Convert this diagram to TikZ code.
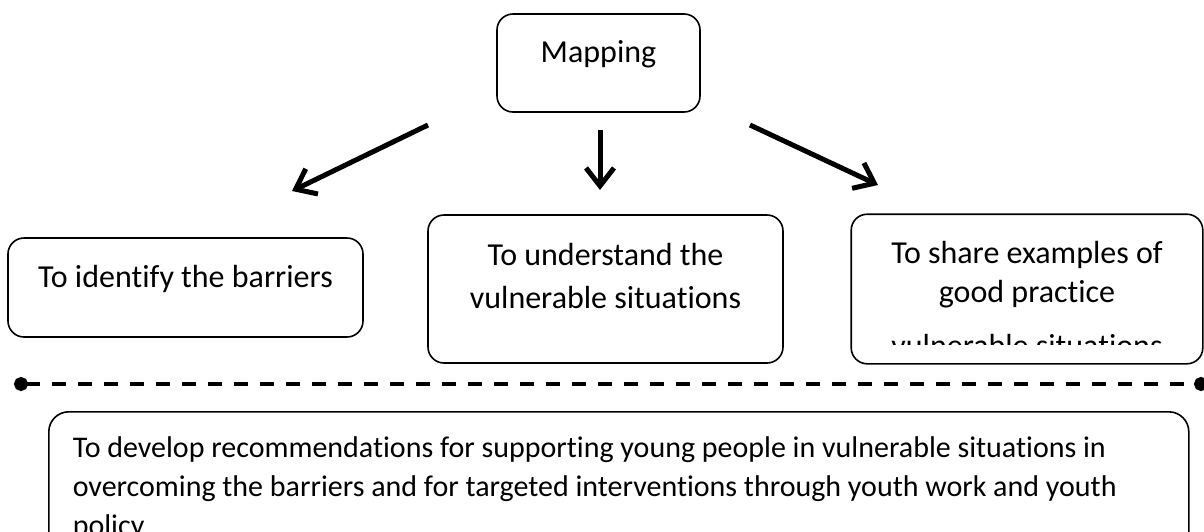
\documentclass[tikz,border=0pt]{standalone}
\usepackage{fontspec}
\setmainfont[Ligatures=NoCommon]{Carlito}
\usetikzlibrary{arrows.meta}

\begin{document}
\begin{tikzpicture}[x=1pt, y=-1pt,
    box/.style={draw, line width=1.6pt, rounded corners=16pt, inner sep=0pt,
      font=\fontsize{32}{40}\selectfont},
    arr/.style={line width=5pt, -{Straight Barb[length=18pt,width=28pt]}},
    sep/.style={line width=3.5pt, dash pattern=on 14pt off 12pt,
      {Circle[length=14pt]}-{Circle[length=14pt]}}]
      \clip (0,0) rectangle (1204,531);
      \node[box, anchor=base, minimum width=203pt, text height=48pt, text depth=50pt]
        (map) at (598.5,62) {Mapping};
      \node[box, anchor=base, minimum width=355pt, text height=49pt, text depth=50pt]
        (barr) at (185.5,287) {To identify the barriers};
      \node[box, anchor=base, minimum width=355pt, text height=50pt, text depth=98pt]
        (under) at (605.5,265) {\parbox[t]{340pt}{\centering To understand the\\[3pt]
        vulnerable situations}};
      \begin{scope}
        \clip (852,200) rectangle (1204,344);
        \node[box, draw=none, anchor=base, minimum width=350pt, text height=48pt, text depth=100pt]
          (share) at (1027,263) {\parbox[t]{340pt}{\centering To share examples of\\[-1pt]
          good practice\\[14pt] vulnerable situations}};
      \end{scope}
      \draw[line width=1.6pt, rounded corners=16pt] (share.north west) rectangle (share.south east);
      \node[box, anchor=north west, minimum width=1140pt, rounded corners=20pt,
        font=\fontsize{30}{39}\selectfont, text height=46pt, text depth=150pt]
        (recom) at (48,411) {\parbox[t]{1092pt}{\raggedright
        \mbox{To develop recommendations for supporting young people in vulnerable situations in}\\
        \mbox{overcoming the barriers and for targeted interventions through youth work and youth}\\
        policy}};
      \coordinate (lfrom) at (428,125);
      \coordinate (lto) at (292,191);
      \coordinate (mfrom) at (600,130);
      \coordinate (mto) at (600,190);
      \coordinate (rfrom) at (750,125);
      \coordinate (rto) at (878,185);
      \draw[arr] (lfrom) -- (lto);
      \draw[arr] (mfrom) -- (mto);
      \draw[arr] (rfrom) -- (rto);
      \coordinate (sl) at (14,384);
      \coordinate (sr) at (1208,384);
      \draw[sep] (sl) -- (sr);
    \end{tikzpicture}
\end{document}
